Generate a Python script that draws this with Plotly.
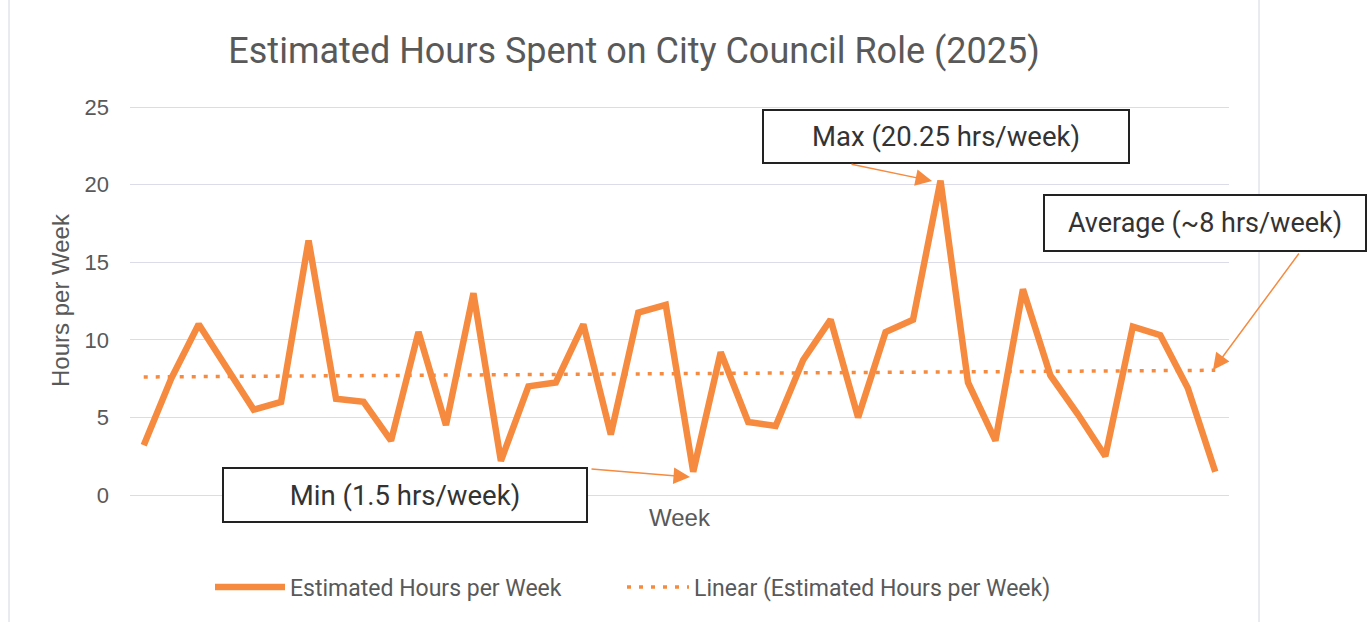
import numpy as np
import plotly.graph_objects as go

weeks = list(range(1, 41))
hours = [3.2, 7.5, 11.0, 8.3, 5.5, 6.0, 16.4, 6.2, 6.0, 3.5,
         10.5, 4.5, 13.0, 2.2, 7.0, 7.25, 11.0, 3.9, 11.75, 12.25,
         1.5, 9.2, 4.7, 4.45, 8.7, 11.3, 5.0, 10.5, 11.3, 20.25,
         7.25, 3.5, 13.25, 7.7, 5.2, 2.5, 10.85, 10.3, 6.9, 1.5]
y_ticks = [0, 5, 10, 15, 20, 25]

series_name = "Estimated Hours per Week"
trend_name = "Linear (Estimated Hours per Week)"
title_text = "Estimated Hours Spent on City Council Role (2025)"
label_max = "Max (20.25 hrs/week)"
label_avg = "Average (~8 hrs/week)"
label_min = "Min (1.5 hrs/week)"

slope, intercept = np.polyfit(weeks, hours, 1)
trend = [slope * w + intercept for w in weeks]

ORANGE = "#F68A3E"
GREY = "#595959"

# plot area in pixels (value 25 at y=107, value 0 at y=495; padded by 2 px)
W, H = 1370, 622
L, R = 130, 1229
Y25, Y0 = 107, 495
UNIT = (Y0 - Y25) / 25.0
PADV = 2 / UNIT
T, B = Y25 - 2, Y0 + 2
PW, PH = R - L, B - T


def px(x):
    return (x - L) / PW


def py(y):
    return (B - y) / PH


fig = go.Figure()
fig.add_trace(go.Scatter(x=weeks, y=hours, mode="lines", name=series_name,
                         line=dict(color=ORANGE, width=6.5), legend="legend",
                         showlegend=True))
fig.add_trace(go.Scatter(x=weeks, y=trend, mode="lines", name=trend_name,
                         line=dict(color=ORANGE, width=3.5, dash="4px,8px"), legend="legend2",
                         showlegend=True))

annots = []
# boxes
for text, cx, cy, bw, bh, fs in [(label_max, 946, 136, 364, 51, 27.5),
                                 (label_avg, 1205, 223, 320, 54, 27),
                                 (label_min, 405, 495, 362, 52, 27.5)]:
    annots.append(dict(text=text, xref="paper", yref="paper", x=px(cx), y=py(cy),
                       xanchor="center", yanchor="middle", showarrow=False,
                       width=bw, height=bh, borderpad=0, borderwidth=2,
                       bordercolor="#222222", bgcolor="white",
                       font=dict(family="Roboto", size=fs, color="#333333")))
# arrows
for hx, hy, tx, ty in [(932, 181, 850, 164), (1213, 370, 1300, 252), (690, 477, 590, 469)]:
    annots.append(dict(text="", xref="paper", yref="paper", x=px(hx), y=py(hy),
                       ax=tx - hx, ay=ty - hy, showarrow=True, arrowhead=2,
                       arrowsize=2.2, arrowwidth=1.5, arrowcolor=ORANGE))
# axis titles
annots.append(dict(text="Week", xref="paper", yref="paper", x=px(680), y=py(517),
                   xanchor="center", yanchor="middle", showarrow=False,
                   font=dict(family="Liberation Sans", size=24, color=GREY)))
annots.append(dict(text="Hours per Week", xref="paper", yref="paper", x=px(60), y=py(300),
                   xanchor="center", yanchor="middle", showarrow=False, textangle=-90,
                   font=dict(family="Liberation Sans", size=24, color=GREY)))

shapes = []
for bx in (9, 1259):
    shapes.append(dict(type="line", xref="paper", yref="paper", x0=px(bx), x1=px(bx),
                       y0=-1, y1=2, line=dict(color="#D4D4E2", width=1)))

legend_common = dict(orientation="h", xanchor="left", y=py(587), yanchor="middle",
                     font=dict(family="Roboto", size=23, color=GREY),
                     bgcolor="rgba(0,0,0,0)", visible=True)

fig.update_layout(
    width=W, height=H,
    showlegend=True,
    margin=dict(l=L, r=W - R, t=T, b=H - B),
    paper_bgcolor="white", plot_bgcolor="white",
    title=dict(text=title_text, x=634 / W, xanchor="center", y=1 - 50 / H, yanchor="middle",
               xref="container", yref="container",
               font=dict(family="Roboto", size=36, color=GREY)),
    xaxis=dict(range=[0.5, 40.5], showticklabels=False, showgrid=False, zeroline=False,
               showline=False, ticks=""),
    yaxis=dict(range=[-PADV, 25 + PADV], tickvals=y_ticks, showgrid=True, gridcolor="#DCDCE8",
               gridwidth=1, zeroline=False, showline=False, ticks="",
               ticklabelstandoff=20,
               tickfont=dict(family="Liberation Sans", size=22, color=GREY)),
    legend=dict(x=px(210), itemwidth=70, **legend_common),
    legend2=dict(x=px(622), itemwidth=62, **legend_common),
    annotations=annots,
    shapes=shapes,
)

fig.write_html("out.html", config={"displayModeBar": False},
               post_script="document.body.style.margin='0';")
